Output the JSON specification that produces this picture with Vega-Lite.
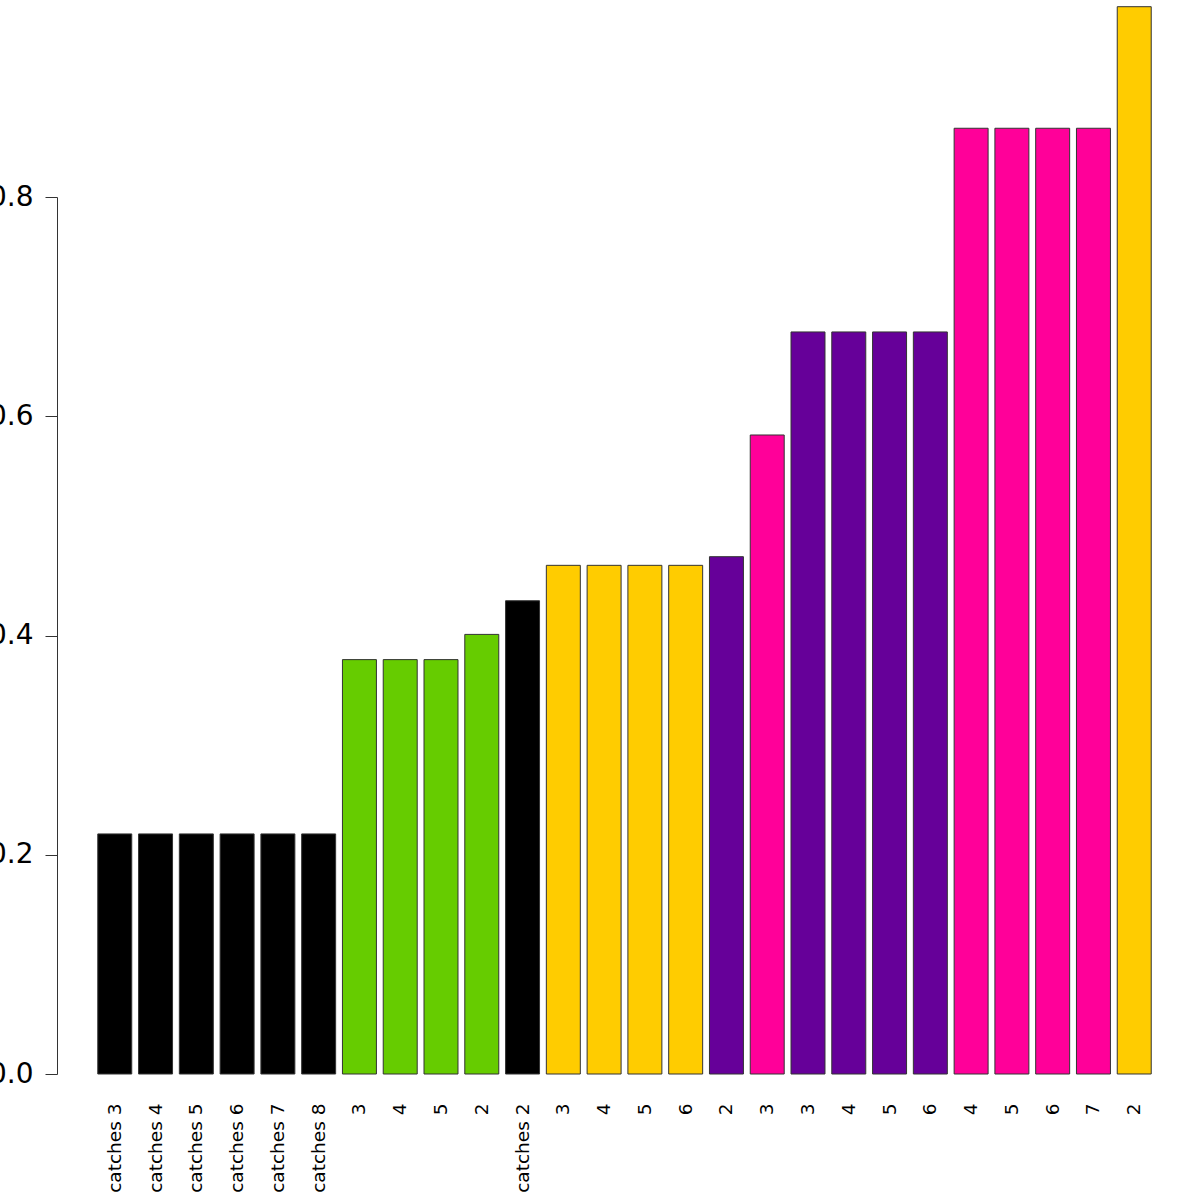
{
  "$schema": "https://vega.github.io/schema/vega-lite/v6.json",
  "width": 1135,
  "height": 877,
  "autosize": {"type": "none"},
  "padding": {"left": 57, "top": 197, "right": 8, "bottom": 126},
  "background": "white",
  "config": {
    "view": {"stroke": null},
    "font": "DejaVu Sans"
  },
  "data": {
    "values": [
      {"id": "01|catches 3", "value": 0.219, "group": "g1"},
      {"id": "02|catches 4", "value": 0.219, "group": "g1"},
      {"id": "03|catches 5", "value": 0.219, "group": "g1"},
      {"id": "04|catches 6", "value": 0.219, "group": "g1"},
      {"id": "05|catches 7", "value": 0.219, "group": "g1"},
      {"id": "06|catches 8", "value": 0.219, "group": "g1"},
      {"id": "07|3", "value": 0.378, "group": "g2"},
      {"id": "08|4", "value": 0.378, "group": "g2"},
      {"id": "09|5", "value": 0.378, "group": "g2"},
      {"id": "10|2", "value": 0.401, "group": "g2"},
      {"id": "11|catches 2", "value": 0.4317, "group": "g1"},
      {"id": "12|3", "value": 0.464, "group": "g3"},
      {"id": "13|4", "value": 0.464, "group": "g3"},
      {"id": "14|5", "value": 0.464, "group": "g3"},
      {"id": "15|6", "value": 0.464, "group": "g3"},
      {"id": "16|2", "value": 0.4719, "group": "g4"},
      {"id": "17|3", "value": 0.5829, "group": "g5"},
      {"id": "18|3", "value": 0.6769, "group": "g4"},
      {"id": "19|4", "value": 0.6769, "group": "g4"},
      {"id": "20|5", "value": 0.6769, "group": "g4"},
      {"id": "21|6", "value": 0.6769, "group": "g4"},
      {"id": "22|4", "value": 0.8627, "group": "g5"},
      {"id": "23|5", "value": 0.8627, "group": "g5"},
      {"id": "24|6", "value": 0.8627, "group": "g5"},
      {"id": "25|7", "value": 0.8627, "group": "g5"},
      {"id": "26|2", "value": 0.9736, "group": "g3"}
    ]
  },
  "mark": {"type": "bar", "stroke": "#333333", "strokeWidth": 1, "clip": false},
  "encoding": {
    "x": {
      "field": "id",
      "type": "nominal",
      "sort": null,
      "scale": {"paddingInner": 0.1667, "paddingOuter": 1.0333, "round": false},
      "axis": {
        "title": null,
        "domain": false,
        "ticks": false,
        "tickSize": 0,
        "labelAngle": -90,
        "labelAlign": "right",
        "labelBaseline": "middle",
        "labelPadding": 29,
        "labelFontSize": 18.5,
        "labelColor": "black",
        "labelExpr": "split(datum.label, '|')[1]"
      }
    },
    "y": {
      "field": "value",
      "type": "quantitative",
      "scale": {"domain": [0, 0.8], "nice": false, "zero": true},
      "axis": {
        "title": null,
        "grid": false,
        "values": [0, 0.2, 0.4, 0.6, 0.8],
        "format": ".1f",
        "domainColor": "#333333",
        "tickColor": "#333333",
        "tickSize": 12,
        "labelPadding": 12,
        "labelFontSize": 28,
        "labelColor": "black"
      }
    },
    "color": {
      "field": "group",
      "type": "nominal",
      "legend": null,
      "scale": {
        "domain": ["g1", "g2", "g3", "g4", "g5"],
        "range": ["#000000", "#66CC00", "#FFCC00", "#660099", "#FF0099"]
      }
    }
  }
}
